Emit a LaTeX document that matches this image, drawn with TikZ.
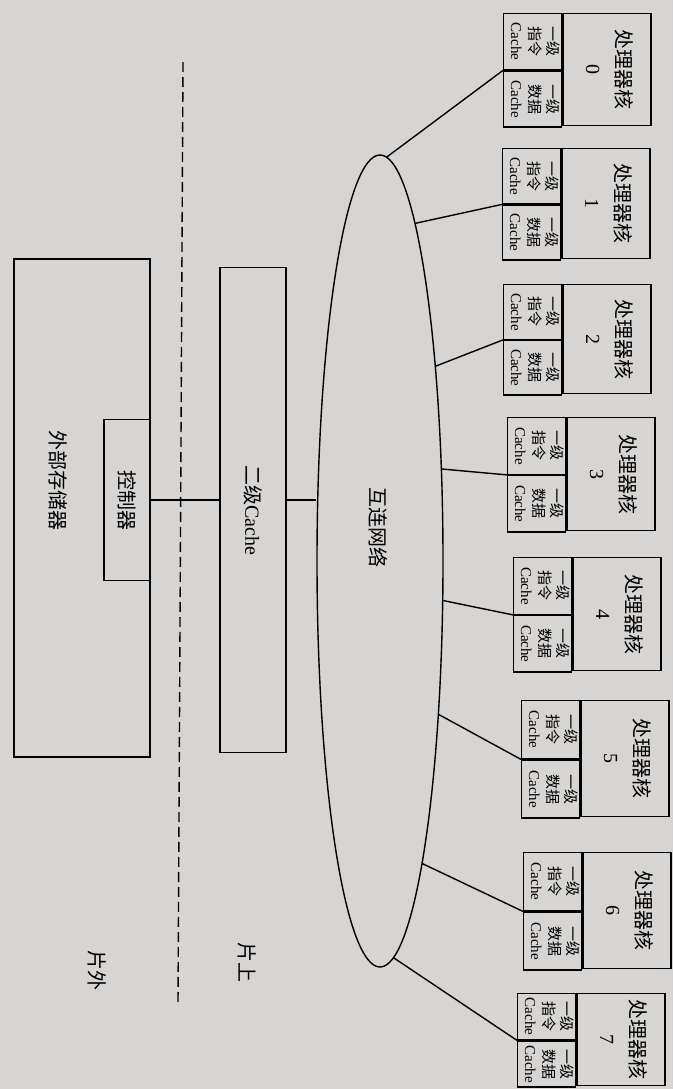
\documentclass[tikz,border=0pt]{standalone}
\usepackage{fontspec}
\usepackage{graphicx}
\setmainfont{Liberation Serif}
\newfontfamily\cjk{Noto Sans CJK SC}
\usetikzlibrary{shapes.geometric}
\definecolor{paper}{RGB}{215,213,211}

\begin{document}
\begin{tikzpicture}[x=1pt,y=-1pt,line width=1.4pt,
    box/.style={draw,rectangle,inner sep=0pt},
    cellbox/.style={box,font=\fontsize{15}{18}\selectfont},
    corebox/.style={box,font=\fontsize{20}{30}\selectfont},
    lbl/.style={font=\fontsize{20}{24}\selectfont},
    divider/.style={dash pattern=on 10pt off 5pt}]
    \fill[paper] (0,0) rectangle (673,1089);
    \useasboundingbox (0,0) rectangle (673,1089);

    % interconnect
    \node[draw,ellipse,inner sep=0pt,minimum width=126pt,minimum height=812pt] (net) at (380,561) {};
    \node[lbl] (nettxt) at (378,527) {\rotatebox{-90}{\cjk 互连网络}};

    % cores: number/left/top/height/angle on net
    \foreach \i/\x/\y/\h/\a in {0/503/13/112/89,1/502/148/110/84,2/503/284/109/74,3/507/417/113/56,
        4/513/557/113/328,5/521/700/116/291,6/523/852/116/278,7/517/993/92/272} {
        \node[cellbox,minimum width=58pt,minimum height={0.5*\h pt},anchor=north west] (ic\i) at (\x,\y)
            {\rotatebox{-90}{\begin{tabular}{@{}c@{}}{\cjk 一级}\\{\cjk 指令}\\Cache\end{tabular}}};
        \node[cellbox,minimum width=58pt,minimum height={0.5*\h pt},anchor=north west] (dc\i) at (ic\i.south west)
            {\rotatebox{-90}{\begin{tabular}{@{}c@{}}{\cjk 一级}\\{\cjk 数据}\\Cache\end{tabular}}};
        \node[corebox,minimum width=88pt,minimum height={\h pt},anchor=north west] (pc\i) at (ic\i.north east)
            {\rotatebox{-90}{\begin{tabular}{@{}c@{}}{\cjk 处理器核}\\\i\end{tabular}}};
        \draw (ic\i.south west) -- (net.\a);
    }

    % L2 and memory
    \node[box,lbl,minimum width=66pt,minimum height=485pt] (l2) at (253,510) {\rotatebox{-90}{{\cjk 二级}Cache}};
    \node[box,minimum width=136pt,minimum height=498pt] (mem) at (82,508) {};
    \node[lbl] (memtxt) at (58,480) {\rotatebox{-90}{\cjk 外部存储器}};
    \node[box,lbl,minimum width=46pt,minimum height=161pt] (ctrl) at (127,500) {\rotatebox{-90}{\cjk 控制器}};

    \draw (ctrl.east) -- (ctrl.east -| l2.west);
    \draw (ctrl.east -| l2.east) -- (ctrl.east -| net.west);

    % chip boundary
    \coordinate (dtop) at (183,62);
    \coordinate (dbot) at (178,1003);
    \draw[divider] (dtop) -- (dbot);
    \node[lbl] (onchip) at (247,962) {\rotatebox{-90}{\cjk 片上}};
    \node[lbl] (offchip) at (97,970) {\rotatebox{-90}{\cjk 片外}};
\end{tikzpicture}
\end{document}
